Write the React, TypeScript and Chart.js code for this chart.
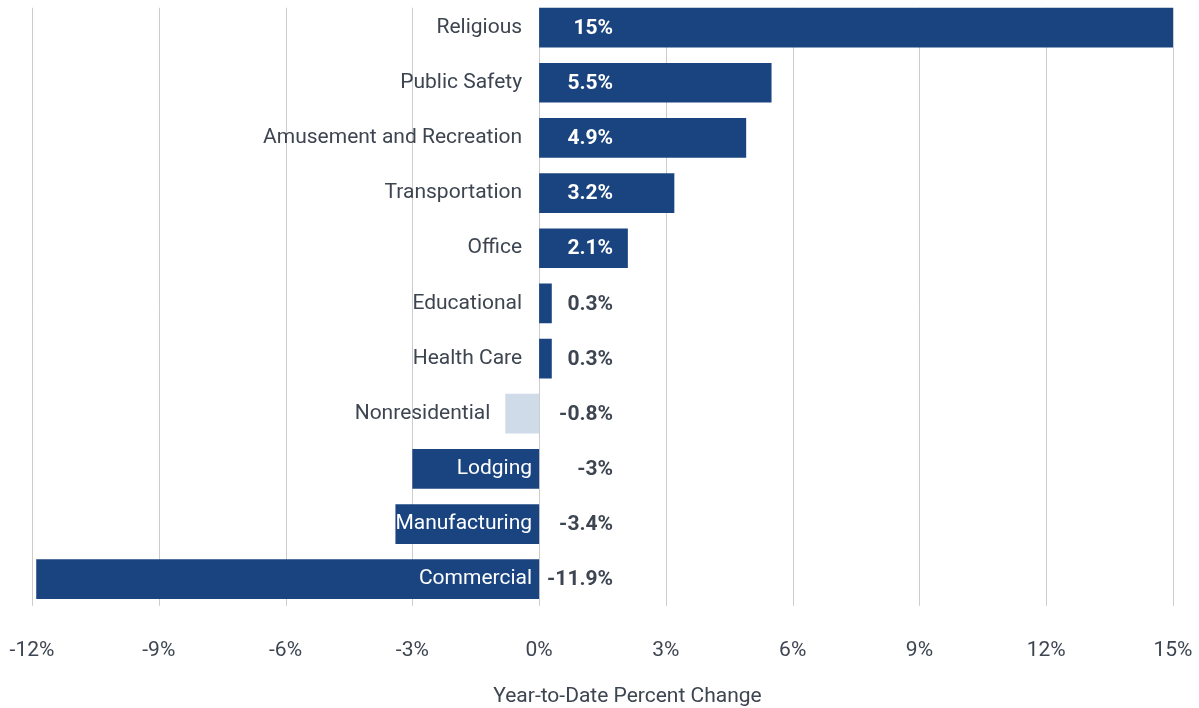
import React, { useEffect, useRef } from "react";
import { Chart, registerables } from "chart.js";

Chart.register(...registerables);

const categories = [
  "Religious",
  "Public Safety",
  "Amusement and Recreation",
  "Transportation",
  "Office",
  "Educational",
  "Health Care",
  "Nonresidential",
  "Lodging",
  "Manufacturing",
  "Commercial",
];
const values = [15, 5.5, 4.9, 3.2, 2.1, 0.3, 0.3, -0.8, -3, -3.4, -11.9];
const valueLabels = ["15%", "5.5%", "4.9%", "3.2%", "2.1%", "0.3%", "0.3%", "-0.8%", "-3%", "-3.4%", "-11.9%"];
const highlighted = ["Nonresidential"];
const tickValues = [-12, -9, -6, -3, 0, 3, 6, 9, 12, 15];
const axisTitle = "Year-to-Date Percent Change";

const DARK = "#1a4480";
const LIGHT = "#cfdbe8";
const TEXT = "#3d4551";
const FONT = "Roboto";
const FS = 21;

const labelsPlugin = {
  id: "customLabels",
  beforeDatasetsDraw(chart: any) {
    const { ctx, chartArea, scales } = chart;
    const x = scales.x;
    const meta = chart.getDatasetMeta(0);
    const firstBar = meta.data[0];
    const top = firstBar.y - firstBar.height / 2;
    ctx.save();
    ctx.strokeStyle = "#cccccc";
    ctx.lineWidth = 1;
    tickValues.forEach((v) => {
      const px = Math.round(x.getPixelForValue(v)) + 0.5;
      ctx.beginPath();
      ctx.moveTo(px, top);
      ctx.lineTo(px, chartArea.bottom - 1);
      ctx.stroke();
    });
    ctx.restore();
  },
  afterDatasetsDraw(chart: any) {
    const { ctx, chartArea, scales } = chart;
    const x = scales.x;
    const x0 = x.getPixelForValue(0);
    const meta = chart.getDatasetMeta(0);
    ctx.save();
    ctx.textBaseline = "middle";
    meta.data.forEach((bar: any, i: number) => {
      const v = values[i];
      const y = bar.y;
      ctx.font = `400 ${FS}px ${FONT}`;
      ctx.textAlign = "right";
      const w = ctx.measureText(categories[i]).width;
      if (v >= 0) {
        ctx.fillStyle = TEXT;
        ctx.fillText(categories[i], x0 - 17, y);
      } else {
        const barLeft = x.getPixelForValue(v);
        const bw = x0 - barLeft;
        if (w + 6 <= bw) {
          ctx.fillStyle = "#ffffff";
          ctx.fillText(categories[i], x0 - 7, y);
        } else {
          ctx.fillStyle = TEXT;
          ctx.fillText(categories[i], barLeft - 15, y);
        }
      }
      ctx.font = `700 ${FS}px ${FONT}`;
      ctx.textAlign = "right";
      const end = x0 + 74;
      const barRight = x.getPixelForValue(v);
      ctx.fillStyle = v > 0 && barRight >= end + 6 ? "#ffffff" : TEXT;
      ctx.fillText(valueLabels[i], end, y + 1);
    });
    ctx.font = `400 ${FS}px ${FONT}`;
    ctx.textAlign = "center";
    ctx.fillStyle = TEXT;
    ctx.fillText(axisTitle, (chartArea.left + chartArea.right) / 2 + 25, 697);
    ctx.restore();
  },
};

export default function App() {
  const ref = useRef<HTMLCanvasElement | null>(null);
  useEffect(() => {
    if (!ref.current) return;
    const chart = new Chart(ref.current, {
      type: "bar",
      data: {
        labels: categories,
        datasets: [
          {
            data: values,
            backgroundColor: categories.map((c) => (highlighted.includes(c) ? LIGHT : DARK)),
            borderWidth: 0,
            categoryPercentage: 0.8,
            barPercentage: 0.9,
          },
        ],
      },
      options: {
        indexAxis: "y",
        animation: false,
        responsive: false,
        maintainAspectRatio: false,
        layout: { padding: { left: 32, right: 26, top: 0, bottom: 22 } },
        plugins: {
          legend: { display: false },
          tooltip: { enabled: false },
        },
        scales: {
          y: { display: false, offset: true },
          x: {
            type: "linear",
            min: -12,
            max: 15,
            afterBuildTicks: (scale: any) => {
              scale.ticks = tickValues.map((v) => ({ value: v }));
            },
            afterFit: (scale: any) => {
              scale.paddingLeft = 0;
              scale.paddingRight = 0;
            },
            grid: { display: false },
            border: { display: false },
            ticks: {
              padding: 23,
              color: TEXT,
              font: { family: FONT, size: FS },
              maxRotation: 0,
              callback: (v: any) => `${v}%`,
            },
          },
        },
      },
      plugins: [labelsPlugin],
    });
    return () => chart.destroy();
  }, []);
  return (
    <div style={{ position: "absolute", left: 0, top: 0, width: 1199, height: 708, background: "#fff" }}>
      <canvas ref={ref} width={1199} height={708} style={{ width: 1199, height: 708 }} />
    </div>
  );
}
